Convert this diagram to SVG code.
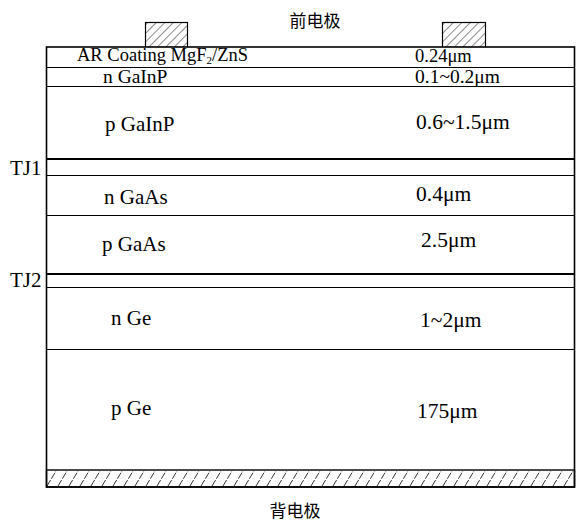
<svg xmlns="http://www.w3.org/2000/svg" width="577" height="522" viewBox="0 0 577 522">
<style>
.t{font-family:'Liberation Serif','Times New Roman',Times,serif;fill:#000}
.lbl{font-size:21px}
.val{font-size:21.5px}
.cn{font-family:'Noto Sans CJK SC','Noto Sans',sans-serif;font-size:17px;fill:#000}
.ln{stroke:#000;stroke-width:1;fill:none}
.thick{stroke:#000;stroke-width:2;fill:none}
</style>
<defs>
<pattern id="hFine" patternUnits="userSpaceOnUse" width="6" height="6" patternTransform="rotate(45)">
<line x1="0" y1="0" x2="0" y2="6" stroke="#000" stroke-width="0.9"/>
</pattern>
<pattern id="hBack" patternUnits="userSpaceOnUse" x="46" y="470" width="11" height="17">
<line x1="1" y1="16" x2="10" y2="1" stroke="#000" stroke-width="0.8" stroke-dasharray="7,1.5"/>
</pattern>
</defs>
<g id="front-electrode">
<rect x="145.5" y="22.5" width="42" height="25" fill="url(#hFine)" stroke="#000" stroke-width="1.2"/>
<rect x="442.5" y="22.5" width="43" height="25" fill="url(#hFine)" stroke="#000" stroke-width="1.2"/>
<text class="cn" x="315" y="27" text-anchor="middle">前电极</text>
</g>
<g id="layers">
<rect x="46.5" y="47" width="528" height="440" fill="#fff" stroke="#000" stroke-width="1.6"/>
</g>
<g id="connectors">
<line class="ln" x1="46.5" y1="67.5" x2="574.5" y2="67.5"/>
<line class="ln" x1="46.5" y1="86.5" x2="574.5" y2="86.5"/>
<line class="thick" x1="46.5" y1="159" x2="574.5" y2="159"/>
<line class="ln" x1="46.5" y1="175.5" x2="574.5" y2="175.5"/>
<line class="ln" x1="46.5" y1="215.5" x2="574.5" y2="215.5"/>
<line class="thick" x1="46.5" y1="274" x2="574.5" y2="274"/>
<line class="ln" x1="46.5" y1="287.5" x2="574.5" y2="287.5"/>
<line class="ln" x1="46.5" y1="349.5" x2="574.5" y2="349.5"/>
</g>
<g id="back-electrode">
<rect x="46.5" y="470" width="528" height="17" fill="url(#hBack)" stroke="#000" stroke-width="1.4"/>
<text class="cn" x="295" y="517" text-anchor="middle">背电极</text>
</g>
<g font-family="'Liberation Serif', 'Times New Roman', serif">
<g id="ar-coating">
<text class="t" x="77" y="61" font-size="18.5">AR Coating MgF<tspan font-size="11" dy="3">2</tspan><tspan dy="-3">/ZnS</tspan></text>
<text class="t" x="415" y="62" font-size="18.5">0.24μm</text>
</g>
<g id="n-GaInP">
<text class="t" x="103" y="83" font-size="19.5">n GaInP</text>
<text class="t" x="415" y="83" font-size="19.5">0.1~0.2μm</text>
</g>
<g id="p-GaInP">
<text class="t lbl" x="105" y="131">p GaInP</text>
<text class="t val" x="416" y="129">0.6~1.5μm</text>
</g>
<g id="TJ1"><text class="t lbl" x="10" y="175">TJ1</text></g>
<g id="n-GaAs">
<text class="t lbl" x="104" y="204">n GaAs</text>
<text class="t val" x="416" y="201">0.4μm</text>
</g>
<g id="p-GaAs">
<text class="t lbl" x="102" y="251">p GaAs</text>
<text class="t val" x="421" y="247">2.5μm</text>
</g>
<g id="TJ2"><text class="t lbl" x="10" y="287">TJ2</text></g>
<g id="n-Ge">
<text class="t lbl" x="111" y="325">n Ge</text>
<text class="t val" x="420" y="327">1~2μm</text>
</g>
<g id="p-Ge">
<text class="t lbl" x="111" y="415">p Ge</text>
<text class="t val" x="417" y="418">175μm</text>
</g>
</g>
</svg>
